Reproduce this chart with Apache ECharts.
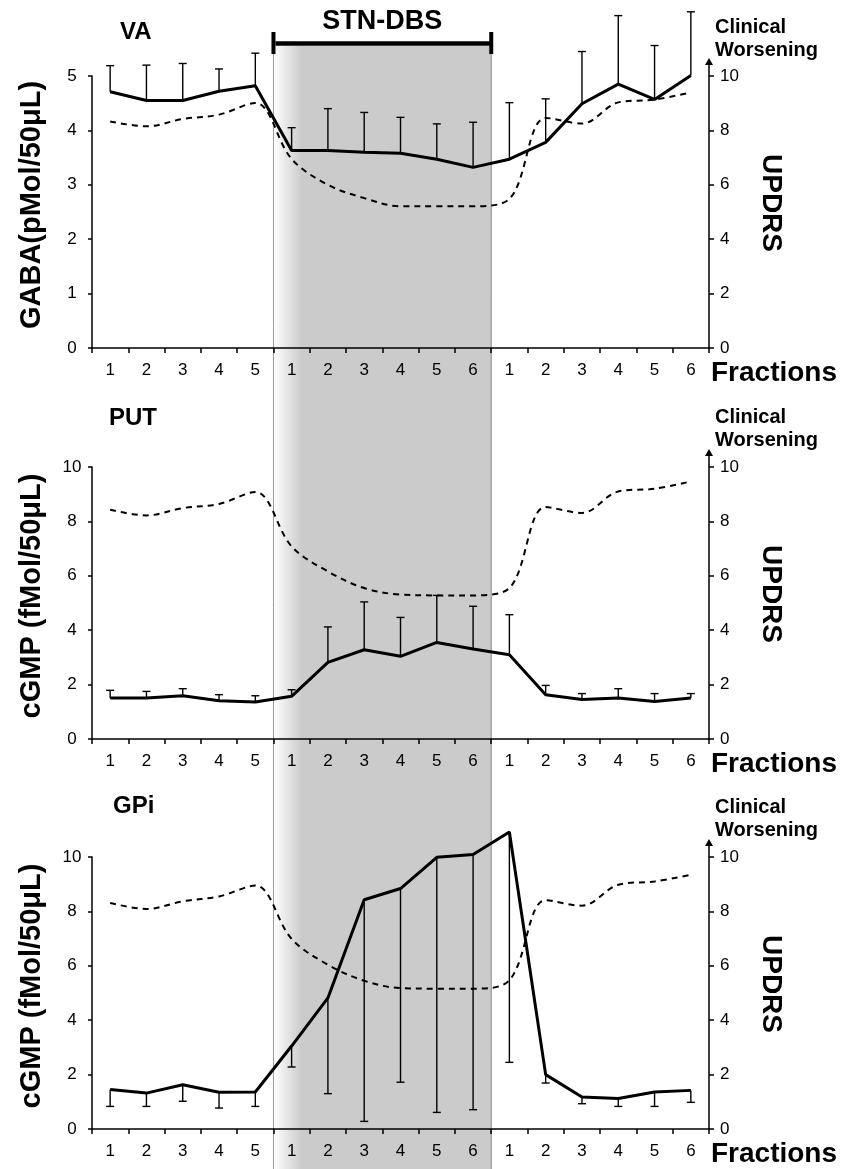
<!DOCTYPE html>
<html><head><meta charset="utf-8">
<script src="https://cdn.jsdelivr.net/npm/echarts@6/dist/echarts.min.js"></script>
<style>html,body{margin:0;padding:0;background:#fff}#c{width:844px;height:1169px}</style>
</head><body><div id="c"></div>
<script>
// x categories (fractions: pre-stim 1-5, STN-DBS 1-6, post-stim 1-6)
const fractions = ['1','2','3','4','5','1','2','3','4','5','6','1','2','3','4','5','6'];
const stimFirst = 5, stimLast = 10; // category indices covered by STN-DBS

// VA: GABA (pMol/50µL), mean and upper error bar end
const vaMean    = [4.71, 4.55, 4.55, 4.72, 4.82, 3.63, 3.63, 3.60, 3.58, 3.47, 3.32, 3.47, 3.78, 4.49, 4.85, 4.57, 5.01];
const vaErrHigh = [5.19, 5.20, 5.23, 5.13, 5.42, 4.05, 4.40, 4.33, 4.24, 4.12, 4.15, 4.51, 4.58, 5.45, 6.11, 5.56, 6.18];
const updrsVA   = [8.33, 8.15, 8.42, 8.58, 9.01, 6.95, 6.00, 5.51, 5.21, 5.21, 5.21, 5.48, 8.46, 8.25, 9.03, 9.13, 9.40];

// PUT: cGMP (fMol/50µL)
const putMean    = [1.51, 1.51, 1.59, 1.41, 1.36, 1.57, 2.82, 3.28, 3.04, 3.55, 3.31, 3.10, 1.63, 1.45, 1.51, 1.38, 1.51];
const putErrHigh = [1.79, 1.75, 1.85, 1.63, 1.59, 1.81, 4.12, 5.04, 4.47, 5.28, 4.88, 4.57, 1.97, 1.67, 1.85, 1.67, 1.67];
const updrsPUT   = [8.43, 8.22, 8.49, 8.64, 9.08, 7.08, 6.16, 5.55, 5.31, 5.28, 5.28, 5.55, 8.53, 8.31, 9.10, 9.20, 9.47];

// GPi: cGMP (fMol/50µL), mean and lower error bar end
const gpiMean   = [1.45, 1.32, 1.63, 1.35, 1.36, 3.05, 4.82, 8.43, 8.84, 9.99, 10.09, 10.92, 2.00, 1.18, 1.12, 1.36, 1.42];
const gpiErrLow = [0.83, 0.83, 1.02, 0.77, 0.83, 2.28, 1.30, 0.28, 1.72, 0.61, 0.71, 2.45, 1.69, 0.93, 0.83, 0.83, 0.98];
const updrsGPi  = [8.31, 8.09, 8.37, 8.55, 8.95, 6.99, 6.04, 5.45, 5.18, 5.16, 5.16, 5.47, 8.41, 8.21, 8.98, 9.10, 9.35];

const panelTitles = ['VA', 'PUT', 'GPi'];
const leftNames = ['GABA(pMol/50\u03bcL)', 'cGMP (fMol/50\u03bcL)', 'cGMP (fMol/50\u03bcL)'];
const rightName = 'UPDRS';
const topNote = 'Clinical\nWorsening';
const xName = 'Fractions';
const stimLabel = 'STN-DBS';

const FONT = 'Liberation Sans';
const chart = echarts.init(document.getElementById('c'), null, {renderer: 'canvas'});

const panels = [
  {top: 76,  max: 5,  interval: 1, mean: vaMean,  errEnd: vaErrHigh, updrs: updrsVA},
  {top: 467, max: 10, interval: 2, mean: putMean, errEnd: putErrHigh, updrs: updrsPUT},
  {top: 857, max: 10, interval: 2, mean: gpiMean, errEnd: gpiErrLow, updrs: updrsGPi}
];

const grid = [], xAxis = [], yAxis = [], series = [], title = [];
const titleTops = [20, 406, 794];
const titleLefts = [120, 109, 113];
const noteTops = [16, 406, 796];

panels.forEach((p, i) => {
  grid.push({left: 92, right: 135, top: p.top, height: 272, outerBoundsMode: 'none', containLabel: false});
  xAxis.push({
    type: 'category', gridIndex: i, data: fractions, boundaryGap: true,
    name: xName, nameLocation: 'end', nameGap: 2, nameMoveOverlap: false,
    nameTextStyle: {fontFamily: FONT, fontSize: 28, fontWeight: 'bold', color: '#000', align: 'left', verticalAlign: 'top', padding: [11, 0, 0, 0]},
    axisLine: {lineStyle: {color: '#000', width: 1.5}},
    axisTick: {show: true, interval: 0, length: 5, lineStyle: {color: '#000', width: 1.5}},
    axisLabel: {interval: 0, margin: 14, fontFamily: FONT, fontSize: 17, color: '#000'},
    splitLine: {show: false}
  });
  yAxis.push({
    type: 'value', gridIndex: i, min: 0, max: p.max, interval: p.interval,
    name: leftNames[i], nameLocation: 'middle', nameGap: 46, nameMoveOverlap: false,
    nameTextStyle: {fontFamily: FONT, fontSize: 29, fontWeight: 'bold', color: '#000', padding: [0, 0, 0, 14]},
    axisLine: {show: true, lineStyle: {color: '#000', width: 1.5}},
    axisTick: {show: true, length: 4, lineStyle: {color: '#000', width: 1.5}},
    axisLabel: {margin: 20, align: 'center', fontFamily: FONT, fontSize: 17, color: '#000'},
    splitLine: {show: false}
  });
  yAxis.push({
    type: 'value', gridIndex: i, position: 'right', min: 0, max: 10, interval: 2,
    name: rightName, nameLocation: 'middle', nameGap: 48, nameRotate: -90, nameMoveOverlap: false,
    nameTextStyle: {fontFamily: FONT, fontSize: 28, fontWeight: 'bold', color: '#000', padding: [0, 18, 0, 0]},
    axisLine: {show: true, lineStyle: {color: '#000', width: 1.5},
      symbol: ['none', 'path://M4,0L8,7L4.75,7L4.75,18L3.25,18L3.25,7L0,7Z'],
      symbolSize: [8, 18], symbolOffset: [0, 9]},
    axisTick: {show: true, length: 5, lineStyle: {color: '#000', width: 1.5}},
    axisLabel: {margin: 11, fontFamily: FONT, fontSize: 17, color: '#000'},
    splitLine: {show: false}
  });
  // error bars
  series.push({
    type: 'custom', xAxisIndex: i, yAxisIndex: i * 2, clip: false, z: 3,
    data: p.mean.map((m, k) => [k, m, p.errEnd[k]]),
    renderItem: function (params, api) {
      const a = api.coord([api.value(0), api.value(1)]);
      const b = api.coord([api.value(0), api.value(2)]);
      const st = {stroke: '#000', lineWidth: 1.4};
      return {type: 'group', children: [
        {type: 'line', shape: {x1: a[0], y1: a[1], x2: b[0], y2: b[1]}, style: st},
        {type: 'line', shape: {x1: b[0] - 4, y1: b[1], x2: b[0] + 4, y2: b[1]}, style: st}
      ]};
    }
  });
  // mean line
  series.push({
    type: 'line', xAxisIndex: i, yAxisIndex: i * 2, data: p.mean, clip: false,
    symbol: 'none', z: 4,
    lineStyle: {color: '#000', width: 3}
  });
  // UPDRS dashed
  series.push({
    type: 'line', xAxisIndex: i, yAxisIndex: i * 2 + 1, data: p.updrs, clip: false,
    symbol: 'none', smooth: 0.35, z: 3,
    lineStyle: {color: '#000', width: 2, type: [6, 5]}
  });
  title.push({text: panelTitles[i], left: titleLefts[i], top: titleTops[i], padding: 0,
    textStyle: {fontFamily: FONT, fontSize: 24, fontWeight: 'bold', color: '#000'}});
  title.push({text: topNote, left: 715, top: noteTops[i], padding: 0,
    textStyle: {fontFamily: FONT, fontSize: 20, fontWeight: 'bold', color: '#000', lineHeight: 23}});
});

// overlay grid for the stimulation window shading and bracket
grid.push({left: 92, right: 135, top: 0, bottom: 0, outerBoundsMode: 'none', containLabel: false});
xAxis.push({type: 'value', gridIndex: 3, min: -0.5, max: fractions.length - 0.5, show: false});
yAxis.push({type: 'value', gridIndex: 3, min: 0, max: 1, show: false});
series.push({
  type: 'custom', xAxisIndex: 3, yAxisIndex: 6, z: -1, clip: false, silent: true,
  data: [[stimFirst - 0.5, stimLast + 0.5]],
  renderItem: function (params, api) {
    const cs = params.coordSys;
    const x0 = api.coord([api.value(0), 0])[0];
    const x1 = api.coord([api.value(1), 0])[0];
    const top = 46, bottom = cs.y + cs.height;
    return {type: 'group', children: [
      {type: 'rect', shape: {x: x0, y: top, width: x1 - x0, height: bottom - top},
        style: {fill: new echarts.graphic.LinearGradient(0, 0, 1, 0, [
          {offset: 0, color: '#ffffff'}, {offset: 0.13, color: '#cbcbcb'}, {offset: 1, color: '#cbcbcb'}])}},
      {type: 'line', shape: {x1: x0, y1: top, x2: x0, y2: bottom}, style: {stroke: '#9a9a9a', lineWidth: 1}},
      {type: 'line', shape: {x1: x1, y1: top, x2: x1, y2: bottom}, style: {stroke: '#8a8a8a', lineWidth: 1}},
      {type: 'line', shape: {x1: x0 + 2, y1: 43.5, x2: x1, y2: 43.5}, style: {stroke: '#000', lineWidth: 4.5}},
      {type: 'rect', shape: {x: x0 - 2, y: 32, width: 4, height: 22}, style: {fill: '#000'}},
      {type: 'rect', shape: {x: x1 - 2, y: 32, width: 4, height: 22}, style: {fill: '#000'}},
      {type: 'text', x: (x0 + x1) / 2, y: 22, style: {text: stimLabel, fill: '#000', align: 'center', verticalAlign: 'middle',
        font: 'bold 27px "Liberation Sans"'}}
    ]};
  }
});

chart.setOption({
  animation: false,
  backgroundColor: '#fff',
  textStyle: {fontFamily: FONT},
  title: title, grid: grid, xAxis: xAxis, yAxis: yAxis, series: series
});
</script>
</body></html>
